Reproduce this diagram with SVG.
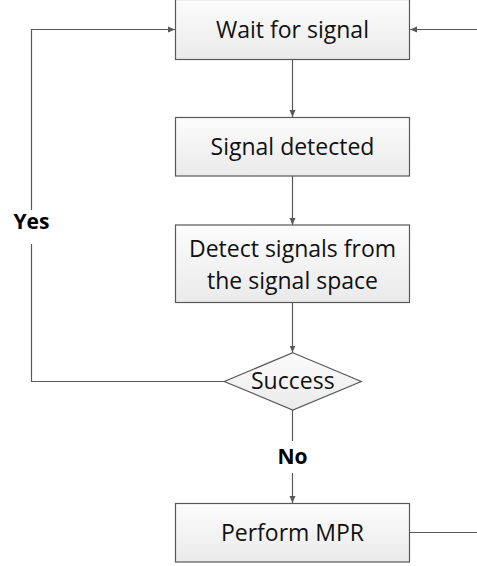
<svg xmlns="http://www.w3.org/2000/svg" width="477" height="566" viewBox="0 0 477 566">
<style>
.box{fill:url(#g);stroke:#595959;stroke-width:1.2}
.t{font-family:"Open Sans","Liberation Sans",sans-serif;font-size:23px;fill:#111;text-anchor:middle}
.b{font-family:"Open Sans","Liberation Sans",sans-serif;font-size:21px;font-weight:bold;fill:#000;text-anchor:middle}
.c{fill:none;stroke:#595959;stroke-width:1.2}
</style>
<defs>
<linearGradient id="g" x1="0" y1="0" x2="0" y2="1">
<stop offset="0" stop-color="#fcfcfc"/>
<stop offset="1" stop-color="#eaeaea"/>
</linearGradient>
<marker id="a" markerWidth="8" markerHeight="8" refX="7" refY="4" orient="auto" markerUnits="userSpaceOnUse">
<path d="M0,1 L7,4 L0,7 z" fill="#595959"/>
</marker>
</defs>
<g id="connectors">
<path class="c" d="M292.5,59.5 V117" marker-end="url(#a)"/>
<path class="c" d="M292.5,176 V225" marker-end="url(#a)"/>
<path class="c" d="M292.5,302.5 V352.5" marker-end="url(#a)"/>
<path class="c" d="M292.5,410 V441"/>
<path class="c" d="M292.5,473 V503" marker-end="url(#a)"/>
<path class="c" d="M224.5,381.5 H31.5 V29.5 H175" marker-end="url(#a)"/>
<path class="c" d="M477,29.5 H410" marker-end="url(#a)"/>
<path class="c" d="M410,532.5 H477"/>
<rect x="10" y="210" width="44" height="34" fill="#fff"/>
<text class="b" x="31.5" y="229">Yes</text>
<text class="b" x="292.5" y="464">No</text>
</g>
<g id="wait">
<rect class="box" x="175.5" y="-0.5" width="234" height="60"/>
<text class="t" x="292.5" y="38">Wait for signal</text>
</g>
<g id="detected">
<rect class="box" x="175.5" y="117.5" width="234" height="58.5"/>
<text class="t" x="292.5" y="154.5">Signal detected</text>
</g>
<g id="detect">
<rect class="box" x="175.5" y="225" width="234" height="77.5"/>
<text class="t" x="292.5" y="256.5">Detect signals from</text>
<text class="t" x="292.5" y="289">the signal space</text>
</g>
<g id="success">
<polygon points="292.8,352.7 361.3,381.5 292.8,410 224.3,381.5" fill="url(#g)" stroke="#595959" stroke-width="1.2"/>
<text class="t" x="292.8" y="389">Success</text>
</g>
<g id="mpr">
<rect class="box" x="175.5" y="503.5" width="234" height="58.5"/>
<text class="t" x="292.5" y="540.5">Perform MPR</text>
</g>
</svg>
